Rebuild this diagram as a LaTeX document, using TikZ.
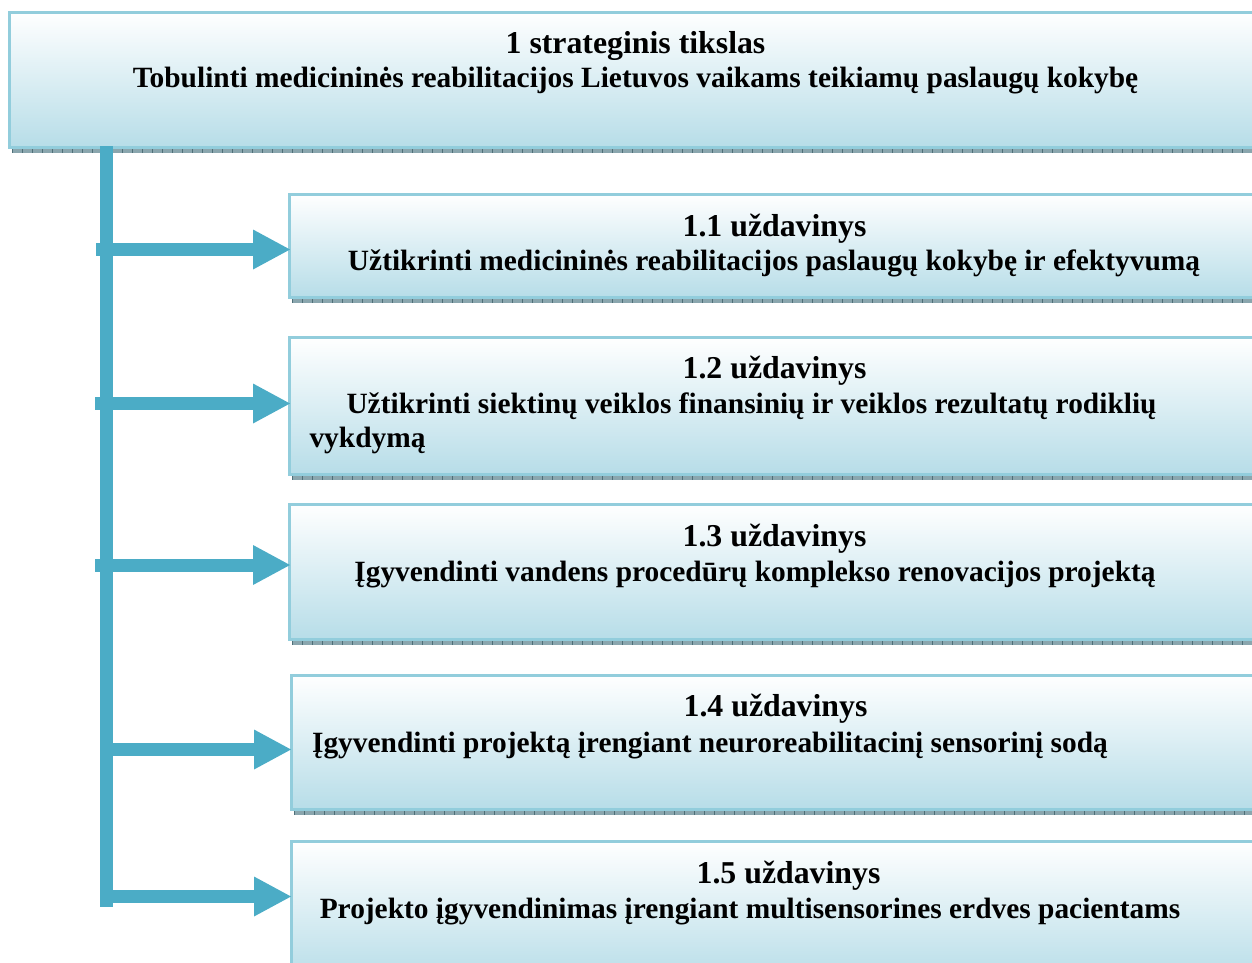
\documentclass[tikz,border=0pt]{standalone}
\usepackage{fontspec}
\setmainfont{Liberation Serif}
\usetikzlibrary{arrows.meta}
\definecolor{barblue}{HTML}{4BACC6}
\definecolor{edgeblue}{HTML}{92CDDC}
\definecolor{fillblue}{HTML}{B7DDE8}
\definecolor{stripc}{HTML}{8AA6AE}
\definecolor{tickc}{HTML}{4F6F78}
\tikzset{
  box/.style={draw=edgeblue, line width=3pt, top color=white, bottom color=fillblue,
    anchor=north west, inner sep=0pt, outer sep=0pt},
  lbl/.style={font=\fontsize{29.4}{35}\selectfont\bfseries, anchor=base, inner sep=0pt, text=black},
  hdr/.style={font=\fontsize{31.8}{37}\selectfont\bfseries, anchor=base, inner sep=0pt, text=black},
  conn/.style={draw=barblue, line width=13pt, line cap=butt,
    -{Triangle[length=37pt,width=40pt,line width=0pt]}},
  stripe/.style={fill=stripc},
  ticks/.style={draw=tickc, line width=4pt, dash pattern=on 1pt off 9pt}
}
\begin{document}
\begin{tikzpicture}[x=1pt,y=-1pt]
\useasboundingbox (0,0) rectangle (1252,962);
\clip (0,0) rectangle (1252,962);
% top box
\node[box, minimum width=1253pt, minimum height=135pt] (goal) at (9,12) {};
% sub boxes
\node[box, minimum width=973pt, minimum height=103pt] (t1) at (289,194) {};
\node[box, minimum width=973pt, minimum height=137pt] (t2) at (289,337) {};
\node[box, minimum width=973pt, minimum height=135pt] (t3) at (289,504) {};
\node[box, minimum width=971pt, minimum height=134pt] (t4) at (291,675) {};
\node[box, minimum width=971pt, minimum height=140pt] (t5) at (291,841) {};
% shadow strips
\foreach \n in {goal,t1,t2,t3,t4}{
  \fill[stripe] ([xshift=3pt,yshift=-1.5pt]\n.south west) rectangle ([yshift=-5.5pt]\n.south east);
  \draw[ticks] ([xshift=3pt,yshift=-3.5pt]\n.south west) -- ([yshift=-3.5pt]\n.south east);
}
% vertical bar
\node[fill=barblue, inner sep=0pt, outer sep=0pt, minimum width=13pt, minimum height=761pt, anchor=north west] (bar) at (100,146) {};
% arrow starts
\coordinate (s1) at (96,249.5);
\coordinate (s2) at (95,403.5);
\coordinate (s3) at (95,565);
\coordinate (s4) at (106,749.5);
\coordinate (s5) at (106,896.5);
\draw[conn] (s1) -- ([xshift=1pt]s1 -| t1.west);
\draw[conn] (s2) -- ([xshift=1pt]s2 -| t2.west);
\draw[conn] (s3) -- ([xshift=1pt]s3 -| t3.west);
\draw[conn] (s4) -- ([xshift=0pt]s4 -| t4.west);
\draw[conn] (s5) -- ([xshift=0pt]s5 -| t5.west);
% texts
\node[hdr] (g1) at (635.5,53) {1 strateginis tikslas};
\node[lbl] (g2) at (635.5,87) {Tobulinti medicininės reabilitacijos Lietuvos vaikams teikiamų paslaugų kokybę};
\node[hdr] (h1) at (774.5,236) {1.1 uždavinys};
\node[lbl] (l1) at (774,270) {Užtikrinti medicininės reabilitacijos paslaugų kokybę ir efektyvumą};
\node[hdr] (h2) at (774.5,378) {1.2 uždavinys};
\node[lbl] (l2) at (751.5,413) {Užtikrinti siektinų veiklos finansinių ir veiklos rezultatų rodiklių};
\node[lbl] (l2b) at (367.5,447) {vykdymą};
\node[hdr] (h3) at (774.5,546) {1.3 uždavinys};
\node[lbl] (l3) at (755,581) {Įgyvendinti vandens procedūrų komplekso renovacijos projektą};
\node[hdr] (h4) at (775.5,716) {1.4 uždavinys};
\node[lbl] (l4) at (710,752) {Įgyvendinti projektą įrengiant neuroreabilitacinį sensorinį sodą};
\node[hdr] (h5) at (788.5,883) {1.5 uždavinys};
\node[lbl] (l5) at (750,918) {Projekto įgyvendinimas įrengiant multisensorines erdves pacientams};
\end{tikzpicture}
\end{document}
